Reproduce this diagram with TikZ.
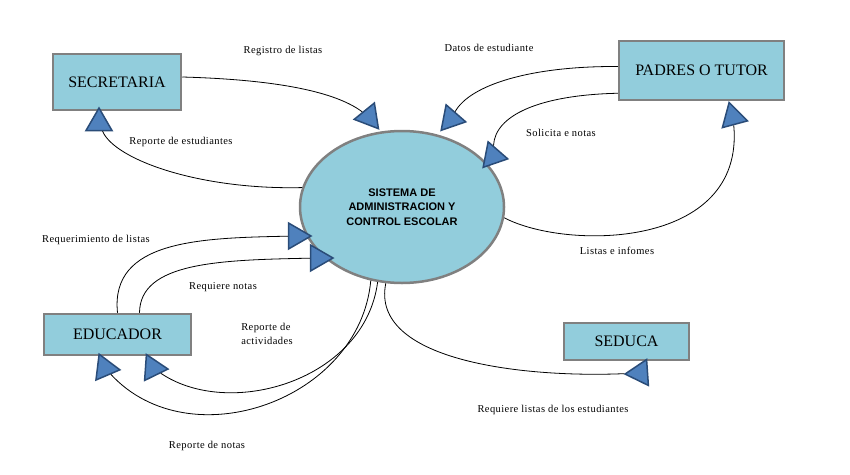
\documentclass[tikz,border=0pt]{standalone}
\usepackage{fontspec}
\setmainfont{Liberation Serif}
\newfontfamily\arialfont{Liberation Sans}
\newfontfamily\etiquetafont[LetterSpace=4]{Liberation Serif}
\usepackage{xcolor}
\usepackage{tikz}
\usetikzlibrary{shapes.geometric, arrows.meta, positioning}

\definecolor{cajaazul}{RGB}{146,205,220}
\definecolor{bordegris}{RGB}{128,128,128}
\definecolor{puntaazul}{RGB}{79,129,189}
\definecolor{puntaborde}{RGB}{42,76,120}

\begin{document}
\begin{tikzpicture}[x=1pt, y=-1pt,
    caja/.style={draw=bordegris, line width=2.5pt, fill=cajaazul, inner sep=0pt, font=\fontsize{16}{18}\selectfont},
    punta/.style={regular polygon, regular polygon sides=3, minimum size=30pt, inner sep=0pt, draw=puntaborde, line width=1.5pt, fill=puntaazul},
    etiqueta/.style={inner sep=1pt, font=\etiquetafont\fontsize{10.5}{14}\selectfont},
    linea/.style={line width=0.8pt}]
    \useasboundingbox (0,0) rectangle (850,474);
    % Sistema central
    \node[ellipse, draw=bordegris, line width=2.5pt, fill=cajaazul, minimum width=204pt, minimum height=152pt, align=center, font=\arialfont\bfseries\fontsize{11}{14.5}\selectfont] (sis) at (402,207) {SISTEMA DE\\ADMINISTRACION Y\\CONTROL ESCOLAR};
    % Entidades
    \node[caja, minimum width=128pt, minimum height=56pt] (sec) at (117,82) {SECRETARIA};
    \node[caja, minimum width=165pt, minimum height=59pt] (pad) at (701.5,70.5) {PADRES O TUTOR};
    \node[caja, minimum width=147pt, minimum height=41pt] (edu) at (117.5,334.5) {EDUCADOR};
    \node[caja, minimum width=125pt, minimum height=37pt] (sed) at (626.5,341.5) {SEDUCA};
    % Puntas de flecha
    \foreach \n/\x/\y/\r in {t1/369/117/-21, t2/99/123/0, t3/451/119/-101, t4/493/156/-101, t5/733/117/15,
                            t6/296/236/-90, t7/318/258/-90, t8/105/368/-97, t9/153/368/-94, t10/640/373/94} {
      \node[punta, rotate=\r] (\n) at (\x,\y) {};
    }
    % Flujos
    \draw[linea] ([yshift=5pt]sec.east) .. controls (290,80) and (340,95) .. (t1);
    \draw[linea] (sis.169) .. controls (200,190) and (115,160) .. (t2);
    \draw[linea] ([yshift=4pt]pad.west) .. controls (530,66) and (470,85) .. (t3);
    \draw[linea] ([yshift=8pt]pad.south west) .. controls (540,95) and (495,115) .. (t4);
    \draw[linea] (sis.354) .. controls (565,250) and (745,250) .. (t5);
    \draw[linea] (edu.north) .. controls (110,240) and (200,238) .. (t6);
    \draw[linea] ([xshift=22pt]edu.north) .. controls (140,262) and (220,260) .. (t7);
    \draw[linea] (sis.247) .. controls (360,400) and (190,460) .. (t8);
    \draw[linea] (sis.252) .. controls (365,380) and (230,420) .. (t9);
    \draw[linea] (sis.258) .. controls (370,360) and (520,378) .. (t10);
    % Etiquetas
    \node[etiqueta] (lreg) at (283,51) {Registro de listas};
    \node[etiqueta] (lrep) at (181,142) {Reporte de estudiantes};
    \node[etiqueta] (ldat) at (489,48) {Datos de estudiante};
    \node[etiqueta] (lsol) at (561,133) {Solicita e notas};
    \node[etiqueta] (llis) at (617,251) {Listas e infomes};
    \node[etiqueta] (lreq) at (96,240) {Requerimiento de listas};
    \node[etiqueta] (lrqn) at (223,287) {Requiere notas};
    \node[etiqueta, align=left] (lact) at (267,334) {Reporte de\\actividades};
    \node[etiqueta] (lnot) at (207,446) {Reporte de notas};
    \node[etiqueta] (lsed) at (553,410) {Requiere listas de los estudiantes};
\end{tikzpicture}
\end{document}
